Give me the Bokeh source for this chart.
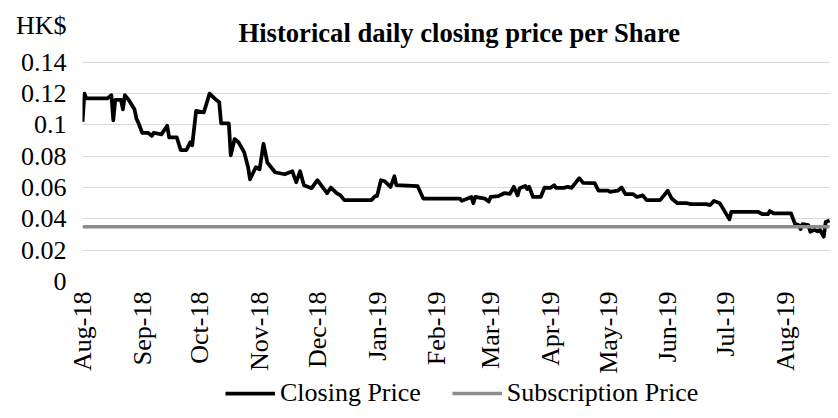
from datetime import datetime
import pandas as pd
from bokeh.plotting import figure
from bokeh.layouts import column
from bokeh.models import (ColumnDataSource, FixedTicker, DatetimeTickFormatter,
                          Legend, LegendItem, Label, Range1d)
from bokeh.embed import file_html
from bokeh.resources import INLINE

# ---------------- data ----------------
close_dates = [
    "2018-08-01", "2018-08-02", "2018-08-03", "2018-08-14", "2018-08-16", "2018-08-17",
    "2018-08-18", "2018-08-21", "2018-08-22", "2018-08-23", "2018-08-25", "2018-08-28",
    "2018-08-29", "2018-08-30", "2018-09-01", "2018-09-04", "2018-09-06", "2018-09-07",
    "2018-09-11", "2018-09-14", "2018-09-15", "2018-09-19", "2018-09-21", "2018-09-24",
    "2018-09-26", "2018-09-27", "2018-09-29", "2018-10-03", "2018-10-06", "2018-10-09",
    "2018-10-11", "2018-10-12", "2018-10-16", "2018-10-17", "2018-10-19", "2018-10-21",
    "2018-10-24", "2018-10-26", "2018-10-27", "2018-10-30", "2018-11-01", "2018-11-03",
    "2018-11-05", "2018-11-09", "2018-11-14", "2018-11-18", "2018-11-20", "2018-11-22",
    "2018-11-24", "2018-11-28", "2018-12-01", "2018-12-06", "2018-12-08", "2018-12-11",
    "2018-12-13", "2018-12-15", "2018-12-29", "2018-12-31", "2019-01-01", "2019-01-03",
    "2019-01-05", "2019-01-08", "2019-01-10", "2019-01-11", "2019-01-22", "2019-01-25",
    "2019-02-13", "2019-02-14", "2019-02-19", "2019-02-20", "2019-02-21", "2019-02-26",
    "2019-02-28", "2019-03-01", "2019-03-05", "2019-03-08", "2019-03-11", "2019-03-13",
    "2019-03-15", "2019-03-16", "2019-03-19", "2019-03-20", "2019-03-21", "2019-03-23",
    "2019-03-27", "2019-03-29", "2019-04-01", "2019-04-03", "2019-04-04", "2019-04-08",
    "2019-04-10", "2019-04-12", "2019-04-16", "2019-04-18", "2019-04-24", "2019-04-26",
    "2019-05-01", "2019-05-02", "2019-05-06", "2019-05-08", "2019-05-10", "2019-05-14",
    "2019-05-16", "2019-05-19", "2019-05-21", "2019-05-28", "2019-06-01", "2019-06-03",
    "2019-06-06", "2019-06-11", "2019-06-13", "2019-06-21", "2019-06-23", "2019-06-25",
    "2019-06-28", "2019-06-29", "2019-07-03", "2019-07-04", "2019-07-18", "2019-07-20",
    "2019-07-23", "2019-07-24", "2019-07-26", "2019-08-04", "2019-08-06", "2019-08-08",
    "2019-08-09", "2019-08-10", "2019-08-13", "2019-08-14", "2019-08-16", "2019-08-18",
    "2019-08-19", "2019-08-21", "2019-08-22", "2019-08-23", "2019-08-24",
]
close_price = [
    0.102, 0.120, 0.117, 0.117, 0.119, 0.103,
    0.116, 0.116, 0.110, 0.119, 0.116, 0.110,
    0.104, 0.1015, 0.095, 0.095, 0.093, 0.095,
    0.094, 0.0995, 0.092, 0.092, 0.084, 0.084,
    0.089, 0.087, 0.109, 0.108, 0.120, 0.1165,
    0.1145, 0.101, 0.101, 0.0806, 0.091, 0.089,
    0.0825, 0.073, 0.0653, 0.073, 0.0717, 0.088,
    0.076, 0.0698, 0.0685, 0.0704, 0.0634, 0.0704,
    0.0615, 0.0596, 0.0647, 0.0564, 0.060, 0.0564,
    0.055, 0.052, 0.052, 0.0545, 0.0545, 0.0647,
    0.064, 0.0604, 0.0672, 0.0615, 0.061, 0.053,
    0.053, 0.0515, 0.054, 0.050, 0.054, 0.053,
    0.051, 0.054, 0.0545, 0.0564, 0.056, 0.0605,
    0.055, 0.0596, 0.061, 0.059, 0.0605, 0.054,
    0.054, 0.060, 0.0598, 0.0615, 0.0598, 0.0598,
    0.0605, 0.0598, 0.066, 0.063, 0.0628, 0.058,
    0.058, 0.0573, 0.058, 0.060, 0.0558, 0.0558,
    0.054, 0.055, 0.052, 0.052, 0.058, 0.053,
    0.050, 0.050, 0.0494, 0.0494, 0.0488, 0.0515,
    0.050, 0.048, 0.0397, 0.0445, 0.0445, 0.043,
    0.043, 0.045, 0.0435, 0.0435, 0.037, 0.036,
    0.0335, 0.0367, 0.036, 0.0318, 0.033, 0.032,
    0.033, 0.0286, 0.038, 0.0385, 0.039,
]
subscription_price = 0.035

month_ticks = ["2018-08-01", "2018-09-01", "2018-10-01", "2018-11-01", "2018-12-01",
               "2019-01-01", "2019-02-01", "2019-03-01", "2019-04-01", "2019-05-01",
               "2019-06-01", "2019-07-01", "2019-08-01"]
y_ticks = [0, 0.02, 0.04, 0.06, 0.08, 0.1, 0.12, 0.14]
y_tick_labels = ["0", "0.02", "0.04", "0.06", "0.08", "0.1", "0.12", "0.14"]

title_text = "Historical daily closing price per Share"
unit_text = "HK$"
unit_tick = 0.1636          # position of the "HK$" unit caption on the value axis
series_names = ["Closing Price", "Subscription Price"]

# ---------------- main chart ----------------
FONT = "Liberation Serif"
CLOSE_COLOR = "black"
SUB_COLOR = "#8c8c8c"
x_start = datetime(2018, 8, 1)
x_end = datetime(2019, 8, 24, 12)

p = figure(width=830, height=376, output_backend="svg", toolbar_location=None,
           title=None, x_axis_type="datetime",
           x_range=Range1d(x_start, x_end), y_range=Range1d(0, 0.1795),
           min_border_left=82, min_border_right=0, min_border_top=0,
           min_border_bottom=94)
p.outline_line_color = None
p.background_fill_color = "white"
p.border_fill_color = "white"

dates = pd.to_datetime(close_dates)
src = ColumnDataSource(dict(x=dates, y=close_price))
p.line("x", "y", source=src, line_color=CLOSE_COLOR, line_width=3.75,
       line_join="round")

sub_src = ColumnDataSource(dict(x=[dates[0], dates[-1]],
                                y=[subscription_price, subscription_price]))
p.line("x", "y", source=sub_src, line_color=SUB_COLOR, line_width=3.5)

# x axis
tick_ms = [pd.Timestamp(t).value / 1e6 for t in month_ticks]
p.xaxis.ticker = FixedTicker(ticks=tick_ms)
fmt = "%b-%y"
p.xaxis.formatter = DatetimeTickFormatter(
    milliseconds=fmt, seconds=fmt, minsec=fmt, minutes=fmt, hourmin=fmt,
    hours=fmt, days=fmt, months=fmt, years=fmt)
p.xaxis.major_label_orientation = 3.14159265 / 2
p.xaxis.major_label_standoff = 10
p.xaxis.axis_line_color = None
p.xaxis.major_tick_line_color = None
p.xaxis.minor_tick_line_color = None
p.xaxis.major_tick_out = 0
p.xaxis.major_label_text_font = FONT
p.xaxis.major_label_text_font_size = "26px"
p.xaxis.major_label_text_color = "black"

# y axis (the unit caption sits above the top tick, as in the original)
p.yaxis.ticker = FixedTicker(ticks=y_ticks + [unit_tick])
overrides = dict(zip(y_ticks, y_tick_labels))
overrides[unit_tick] = unit_text
p.yaxis.major_label_overrides = overrides
p.yaxis.axis_line_color = None
p.yaxis.major_tick_line_color = None
p.yaxis.minor_tick_line_color = None
p.yaxis.major_tick_out = 0
p.yaxis.major_label_standoff = 16
p.yaxis.major_label_text_font = FONT
p.yaxis.major_label_text_font_size = "26px"
p.yaxis.major_label_text_color = "black"

p.xgrid.grid_line_color = None
p.ygrid.ticker = FixedTicker(ticks=y_ticks)
p.ygrid.grid_line_color = "#d9d9d9"
p.ygrid.grid_line_width = 1

# chart title
p.add_layout(Label(x=377, y=249, x_units="screen", y_units="screen",
                   text=title_text, text_font=FONT, text_font_size="26.6px",
                   text_font_style="bold", text_align="center",
                   text_baseline="alphabetic", text_color="black"))

# ---------------- legend strip ----------------
# (its frame is aligned with the chart's frame by the column layout)
nan = float("nan")
lg = figure(width=830, height=34, output_backend="svg", toolbar_location=None,
            title=None, x_range=Range1d(0, 1), y_range=Range1d(0, 1),
            x_axis_location=None, y_axis_location=None,
            min_border_left=0, min_border_right=0, min_border_top=0,
            min_border_bottom=0)
lg.outline_line_color = None
lg.background_fill_alpha = 0
lg.border_fill_alpha = 0
lg.xgrid.visible = False
lg.ygrid.visible = False
k_close = lg.line(x=[nan], y=[nan], line_color=CLOSE_COLOR, line_width=3.75)
k_sub = lg.line(x=[nan], y=[nan], line_color=SUB_COLOR, line_width=3.5)
legend = Legend(items=[LegendItem(label=series_names[0], renderers=[k_close]),
                       LegendItem(label=series_names[1], renderers=[k_sub])],
                location=(143, 2), orientation="horizontal",
                glyph_width=50, glyph_height=20, label_standoff=5, spacing=31,
                padding=0, margin=0, border_line_color=None,
                background_fill_alpha=0, label_text_font=FONT,
                label_text_font_size="26px", label_text_color="black")
lg.add_layout(legend, "center")

layout = column(p, lg, spacing=0)
open("out.html", "w").write(file_html(layout, INLINE))
